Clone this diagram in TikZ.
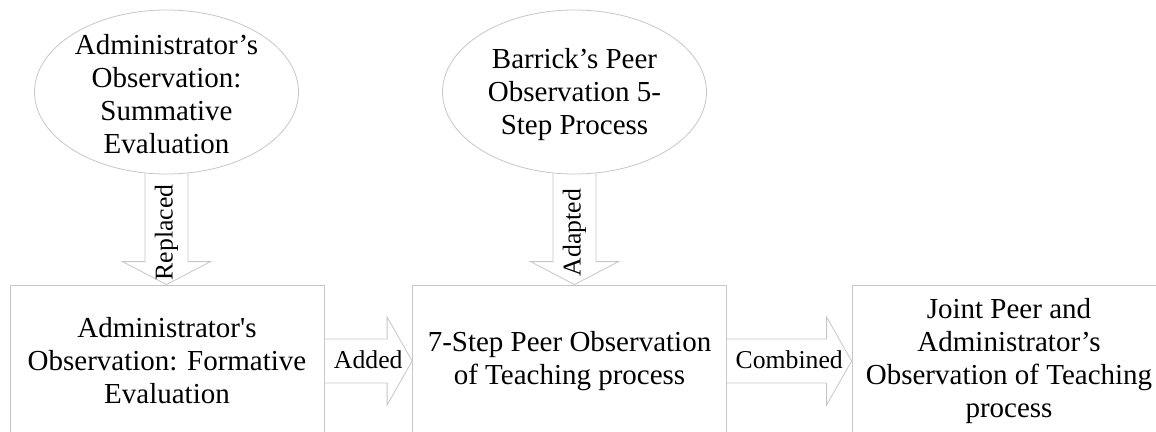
\documentclass[tikz,border=0pt]{standalone}
\usepackage{fontspec}
\setmainfont{Liberation Serif}
\usetikzlibrary{calc,shapes.geometric}
\begin{document}
\begin{tikzpicture}[x=1pt,y=-1pt,
  graystroke/.style={draw=black!22, line width=0.8pt},
  ell/.style={ellipse, graystroke, minimum width=264pt, minimum height=164pt, inner sep=0pt},
  txt/.style={align=center, font=\fontsize{29}{33}\selectfont, inner sep=0pt},
  boxnode/.style={rectangle, graystroke, minimum width=314pt, minimum height=152pt, inner sep=2pt, align=center, font=\fontsize{29}{33}\selectfont},
  lbl/.style={font=\fontsize{25.7}{30}\selectfont, inner sep=1pt}]
\useasboundingbox (0,0) rectangle (1156,431);
\clip (0,0) rectangle (1156,431);
\fill[white] (0,0) rectangle (1156,431);

% ellipses
\node[ell] (e1) at (166.5,92) {};
\node[txt] (t1) at (166.5,94) {Administrator’s\\Observation:\\Summative\\Evaluation};
\node[ell] (e2) at (574.5,92) {};
\node[txt] (t2) at (574.5,95) {Barrick’s Peer\\Observation 5-\\Step Process};

% boxes
\node[boxnode] (b1) at (167,361) {Administrator\textquotesingle s\\Observation: Formative\\Evaluation};
\node[boxnode] (b2) at (569.5,361) {7-Step Peer Observation\\of Teaching process};
\node[boxnode] (b3) at (1009,361) {Joint Peer and\\Administrator’s\\Observation of Teaching\\process};

% down arrows
\foreach \s/\t/\l/\n in {e1/b1/Replaced/r, e2/b2/Adapted/a}{
  \coordinate (tip\n) at (\s.south |- \t.north);
  \draw[graystroke] ($(\s.south)+(-21.5,-1)$) -- ($(tip\n)+(-21.5,-23)$) -- ($(tip\n)+(-44,-23)$) -- (tip\n)
     -- ($(tip\n)+(44,-23)$) -- ($(tip\n)+(21.5,-23)$) -- ($(\s.south)+(21.5,-1)$);
  \node[lbl, rotate=90] (l\n) at ($(\s.south)!0.5!(tip\n)+(0,3)$) {\l};
}

% right arrows
\foreach \s/\t/\l/\n in {b1/b2/Added/d, b2/b3/Combined/c}{
  \draw[graystroke] ($(\s.east)+(0,-22)$) -- ($(\t.west)+(-25,-22)$) -- ($(\t.west)+(-25,-44)$) -- (\t.west)
     -- ($(\t.west)+(-25,44)$) -- ($(\t.west)+(-25,22)$) -- ($(\s.east)+(0,22)$);
  \node[lbl] (l\n) at ($(\s.east)!0.5!(\t.west)+(0,-1)$) {\l};
}
\end{tikzpicture}
\end{document}
